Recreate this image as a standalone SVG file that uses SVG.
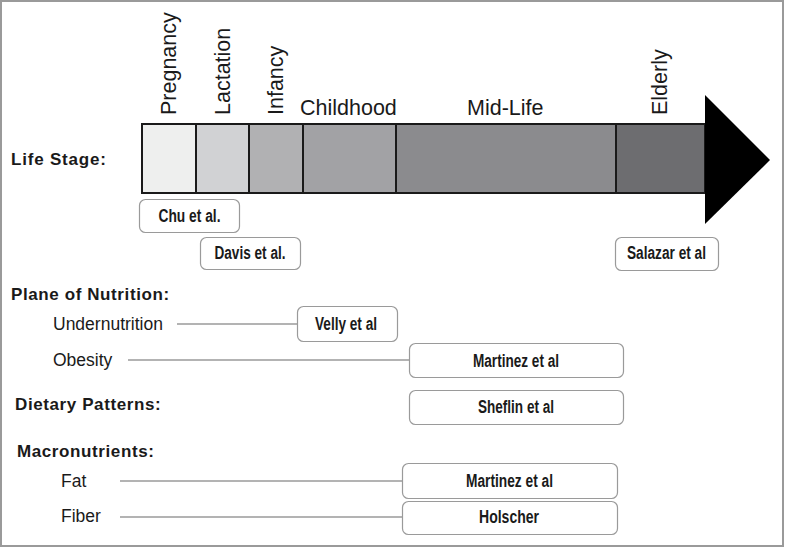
<svg xmlns="http://www.w3.org/2000/svg" width="785" height="548" viewBox="0 0 785 548">
<style>
  .stage { font-family: "Liberation Sans", Arial, sans-serif; font-size: 21.5px; fill: #1a1a1a; }
  .head { font-family: "Liberation Sans", Arial, sans-serif; font-size: 17px; font-weight: bold; fill: #1a1a1a; letter-spacing: 0.6px; }
  .sub { font-family: "Liberation Sans", Arial, sans-serif; font-size: 17.5px; fill: #1a1a1a; }
  .ref rect { fill: #ffffff; stroke: #9a9a9a; stroke-width: 1.2; }
  .ref text { font-family: "Liberation Sans", Arial, sans-serif; font-size: 17.5px; font-weight: bold; fill: #1a1a1a; text-anchor: middle; }
  .seg { stroke: #1a1a1a; stroke-width: 2; }
  .conn line { stroke: #9a9a9a; stroke-width: 1.3; }
</style>
<rect x="1" y="1" width="782" height="545" fill="#ffffff" stroke="#9a9a9a" stroke-width="2"/>

<g id="timeline">
  <rect class="seg" x="142" y="124" width="54" height="69" fill="#eeefee"/>
  <rect class="seg" x="196" y="124" width="53" height="69" fill="#d1d2d4"/>
  <rect class="seg" x="249" y="124" width="54" height="69" fill="#b1b1b3"/>
  <rect class="seg" x="303" y="124" width="93" height="69" fill="#a2a2a5"/>
  <rect class="seg" x="396" y="124" width="220" height="69" fill="#8b8b8e"/>
  <rect class="seg" x="616" y="124" width="89" height="69" fill="#6d6d70"/>
  <polygon points="705,95 770,160 705,224" fill="#000000"/>
</g>

<g id="stage-labels">
  <text class="stage" transform="translate(176,115) rotate(-90)">Pregnancy</text>
  <text class="stage" transform="translate(230,115) rotate(-90)">Lactation</text>
  <text class="stage" transform="translate(283,115) rotate(-90)">Infancy</text>
  <text class="stage" x="300" y="115">Childhood</text>
  <text class="stage" x="467" y="115">Mid-Life</text>
  <text class="stage" transform="translate(667,115) rotate(-90)">Elderly</text>
</g>

<g id="headings">
  <text class="head" x="11" y="165" style="letter-spacing:0.8px">Life Stage:</text>
  <text class="head" x="11" y="300">Plane of Nutrition:</text>
  <text class="head" x="15" y="410">Dietary Patterns:</text>
  <text class="head" x="17" y="457">Macronutrients:</text>
  <text class="sub" x="53" y="330">Undernutrition</text>
  <text class="sub" x="53" y="366">Obesity</text>
  <text class="sub" x="61" y="487">Fat</text>
  <text class="sub" x="61" y="522">Fiber</text>
</g>

<g id="connectors" class="conn">
  <line x1="177" y1="324" x2="297" y2="324"/>
  <line x1="128" y1="360" x2="409" y2="360"/>
  <line x1="120" y1="481" x2="402" y2="481"/>
  <line x1="120" y1="517" x2="402" y2="517"/>
</g>

<g id="chu" class="ref"><rect x="139.5" y="199.5" width="100" height="33" rx="6"/><text x="189.5" y="222" textLength="62" lengthAdjust="spacingAndGlyphs">Chu et al.</text></g>
<g id="davis" class="ref"><rect x="200.5" y="237.5" width="100" height="32" rx="6"/><text x="250" y="259" textLength="71" lengthAdjust="spacingAndGlyphs">Davis et al.</text></g>
<g id="salazar" class="ref"><rect x="615.5" y="237.5" width="103" height="33" rx="6"/><text x="666.5" y="259" textLength="79" lengthAdjust="spacingAndGlyphs">Salazar et al</text></g>
<g id="velly" class="ref"><rect x="297.5" y="306.5" width="100" height="35" rx="6"/><text x="346" y="330" textLength="62" lengthAdjust="spacingAndGlyphs">Velly et al</text></g>
<g id="martinez1" class="ref"><rect x="409.5" y="343.5" width="214" height="34" rx="6"/><text x="516" y="367" textLength="86" lengthAdjust="spacingAndGlyphs">Martinez et al</text></g>
<g id="sheflin" class="ref"><rect x="409.5" y="390.5" width="214" height="34" rx="6"/><text x="516" y="413" textLength="76" lengthAdjust="spacingAndGlyphs">Sheflin et al</text></g>
<g id="martinez2" class="ref"><rect x="402.5" y="463.5" width="215" height="35" rx="6"/><text x="509.5" y="487" textLength="87" lengthAdjust="spacingAndGlyphs">Martinez et al</text></g>
<g id="holscher" class="ref"><rect x="402.5" y="501.5" width="215" height="33" rx="6"/><text x="509" y="523" textLength="60" lengthAdjust="spacingAndGlyphs">Holscher</text></g>
</svg>
